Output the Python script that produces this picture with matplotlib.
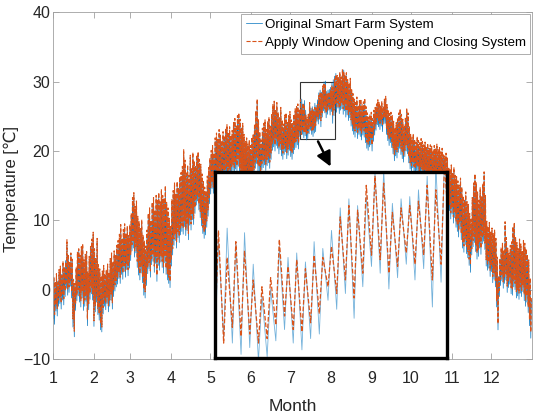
import numpy as np
import matplotlib
matplotlib.use("Agg")
import matplotlib.pyplot as plt
from matplotlib.patches import Rectangle

plt.rcParams['font.family'] = ['Liberation Sans Narrow', 'Liberation Sans', 'DejaVu Sans']

# month start (day of year) and labels
month_start = [0, 31, 59, 90, 120, 151, 181, 212, 243, 273, 304, 334]
month_labels = ['1', '2', '3', '4', '5', '6', '7', '8', '9', '10', '11', '12']

# daily high / low, original smart farm system [degC]
orig_high = [
    1.5, 0.8, 2.0, 1.2, 2.5, 3.0, 2.2, 3.8, 2.9, 4.2,
    6.5, 4.8, 3.5, 5.0, 4.1, 1.0, 0.5, 2.8, 4.9, 5.6,
    4.6, 5.8, 6.1, 3.9, 4.7, 5.2, 2.0, 4.4, 6.0, 6.8,
    7.9, 5.5, 4.0, 6.9, 3.1, 2.6, 1.5, 2.3, 3.0, 1.8,
    2.4, 3.2, 2.1, 4.0, 4.8, 3.6, 5.1, 4.5, 5.9, 6.6,
    7.4, 8.8, 6.9, 8.1, 9.0, 7.5, 8.6, 7.2, 8.9, 10.4,
    12.8, 13.6, 11.5, 12.2, 10.1, 9.2, 8.3, 9.6, 7.4, 6.5,
    5.8, 8.0, 10.4, 11.2, 9.5, 12.1, 12.8, 11.0, 13.1, 12.4,
    13.5, 12.2, 14.0, 13.1, 12.6, 14.6, 12.0, 11.2, 9.8, 8.5,
    12.4, 13.8, 14.9, 13.2, 15.1, 14.0, 15.8, 16.3, 17.2, 19.6,
    18.1, 16.4, 17.5, 15.9, 18.8, 17.0, 19.2, 18.0, 17.3, 18.9,
    19.4, 18.2, 17.6, 16.1, 15.0, 14.2, 13.5, 15.8, 17.0, 18.4,
    19.6, 20.3, 19.1, 21.4, 22.0, 21.2, 22.6, 21.8, 20.9, 22.3,
    21.6, 22.8, 23.3, 22.1, 23.0, 21.7, 22.5, 23.6, 24.2, 23.1,
    24.6, 25.0, 24.1, 22.8, 23.5, 21.9, 20.8, 21.4, 20.5, 21.1,
    20.2, 21.5, 22.0, 23.4, 25.3, 27.2, 24.1, 22.2, 21.0, 22.8,
    23.5, 24.0, 22.6, 23.8, 24.4, 23.0, 24.9, 26.2, 26.8, 25.5,
    26.5, 25.1, 24.3, 25.8, 24.0, 23.4, 24.7, 25.0, 23.8, 24.6,
    25.2, 24.0, 23.5, 24.8, 25.6, 26.0, 26.3, 25.4, 27.0, 27.5,
    26.8, 27.3, 25.9, 24.5, 24.8, 26.7, 26.2, 26.4, 26.0, 26.9,
    26.6, 27.4, 28.4, 28.8, 28.5, 28.9, 30.0, 30.1, 28.6, 28.8,
    28.9, 29.2, 29.8, 30.3, 30.8, 31.2, 30.5, 30.1, 31.0, 30.2,
    31.4, 31.7, 30.6, 30.9, 29.8, 29.3, 30.0, 28.5, 27.8, 27.0,
    26.5, 27.3, 26.1, 26.8, 27.0, 26.2, 26.6, 27.1, 25.9, 25.0,
    24.4, 24.8, 25.1, 24.2, 25.4, 25.8, 26.3, 26.9, 26.5, 26.0,
    26.7, 25.9, 27.0, 27.4, 26.2, 25.3, 24.9, 25.1, 24.6, 23.8,
    22.9, 23.6, 24.3, 25.0, 25.6, 24.8, 24.1, 23.2, 24.4, 25.7,
    25.0, 23.1, 21.9, 21.4, 22.0, 21.2, 20.8, 21.6, 21.0, 20.7,
    21.3, 20.9, 20.4, 20.8, 20.1, 20.6, 19.9, 20.4, 20.2, 19.6,
    20.3, 19.8, 20.5, 19.7, 20.0, 19.4, 19.9, 19.1, 18.8, 19.2,
    18.5, 17.2, 16.8, 17.5, 16.4, 17.1, 16.0, 15.8, 15.2, 14.6,
    15.6, 14.3, 13.0, 12.4, 13.6, 12.2, 11.8, 10.5, 9.6, 12.8,
    14.9, 16.2, 15.0, 13.6, 12.4, 14.2, 13.0, 14.8, 16.6, 13.1,
    9.4, 8.6, 9.2, 7.8, 8.4, 7.6, 8.1, 6.9, 4.2, 1.5,
    4.0, 5.6, 6.2, 5.1, 9.3, 7.0, 5.5, 4.8, 5.9, 6.4,
    8.6, 9.2, 7.0, 6.3, 5.4, 6.8, 6.1, 5.0, 6.6, 6.2,
    5.4, 4.6, 3.8, 1.2, -1.5]

orig_low = [
    -4.2, -5.0, -3.1, -3.8, -2.4, -2.0, -2.8, -1.5, -2.2, -1.0,
    0.2, -0.8, -0.4, 0.5, -1.2, -5.4, -6.8, -3.0, -1.6, -0.9,
    -1.8, -2.5, -1.2, -3.0, -2.4, -1.7, -5.2, -2.9, -1.4, -0.6,
    -1.5, -5.3, -3.2, -1.8, -3.6, -4.4, -5.8, -6.1, -3.5, -2.4,
    -2.9, -2.0, -3.2, -2.4, -1.5, -2.8, -1.0, -0.2, 0.4, 0.8,
    1.6, 0.9, 2.2, 1.5, 2.6, 1.8, 2.9, 2.0, 3.1, 4.2,
    5.6, 6.0, 4.7, 5.3, 3.2, 2.1, 1.4, 2.4, 1.0, -0.8,
    -1.2, 0.6, 2.3, 3.0, 1.8, 3.6, 4.1, 2.5, 3.8, 1.2,
    3.5, 2.8, 4.0, 3.2, 2.4, 3.9, 2.2, 1.4, 0.9, 0.3,
    3.4, 5.0, 6.4, 7.1, 6.0, 7.5, 6.8, 7.9, 8.4, 8.0,
    9.1, 7.8, 8.5, 7.2, 9.3, 8.6, 10.1, 9.4, 11.0, 12.2,
    12.8, 11.5, 10.4, 9.2, 8.1, 7.4, 7.9, 9.0, 10.6, 12.4,
    13.8, 14.6, 13.9, 15.0, 14.2, 15.6, 14.8, 15.9, 15.2, 16.0,
    15.4, 16.3, 16.8, 15.9, 16.5, 15.8, 16.9, 17.2, 16.6, 17.4,
    17.0, 17.8, 16.7, 15.9, 16.2, 15.1, 14.6, 15.3, 14.8, 15.0,
    14.5, 15.2, 15.8, 16.4, 17.5, 18.2, 17.1, 16.8, 16.0, 17.3,
    17.6, 18.0, 17.2, 17.9, 18.3, 17.5, 18.8, 20.1, 20.6, 20.0,
    20.8, 20.4, 19.6, 20.2, 19.3, 18.8, 19.5, 19.9, 18.9, 19.4,
    20.1, 19.2, 18.8, 19.6, 20.2, 20.5, 20.9, 20.3, 22.1, 22.6,
    22.4, 21.9, 22.2, 21.6, 21.8, 22.5, 23.0, 22.4, 22.1, 22.6,
    22.8, 24.3, 23.9, 24.6, 23.5, 24.9, 25.8, 25.5, 24.8, 25.3,
    25.9, 25.2, 25.7, 24.0, 25.1, 26.0, 25.6, 26.2, 25.4, 25.9,
    26.1, 25.3, 25.8, 24.9, 25.2, 24.4, 24.8, 23.6, 22.9, 22.4,
    22.0, 22.7, 21.8, 22.4, 22.1, 21.6, 22.3, 22.0, 21.2, 20.4,
    20.1, 20.6, 20.9, 20.0, 21.4, 22.3, 23.0, 23.8, 23.5, 23.1,
    23.6, 22.8, 23.9, 24.0, 22.4, 21.5, 20.8, 21.2, 20.5, 19.6,
    18.6, 19.3, 19.0, 19.8, 20.4, 19.5, 18.9, 18.4, 19.2, 20.0,
    19.6, 18.3, 17.4, 17.0, 17.6, 16.9, 16.6, 17.2, 16.8, 16.2,
    16.8, 16.5, 16.0, 16.4, 15.9, 16.2, 15.7, 16.0, 15.8, 15.4,
    15.9, 15.5, 16.1, 15.3, 15.6, 15.0, 15.4, 14.6, 14.2, 13.8,
    12.6, 10.8, 11.4, 10.2, 10.9, 9.6, 10.4, 9.0, 8.4, 7.6,
    8.8, 7.2, 6.0, 5.4, 6.5, 5.2, 4.6, 3.5, 2.5, 5.0,
    6.2, 6.8, 5.5, 4.4, 4.8, 6.0, 5.1, 6.6, 7.0, 5.8,
    3.4, 2.8, 3.1, 1.9, 2.6, 1.0, 1.5, 0.4, -2.5, -5.8,
    -1.0, 0.6, 1.3, 0.2, 0.9, 1.4, -0.4, 0.3, 0.8, -0.6,
    -0.8, 0.4, 0.0, -1.2, -0.9, -1.4, -0.5, -1.0, -0.3, -1.6,
    -2.4, -1.8, -3.3, -5.2, -7.0]

# daily high / low, with window opening and closing system [degC]
win_high = [
    1.9, 1.2, 2.3, 1.0, 2.9, 3.4, 2.0, 4.1, 3.3, 4.0,
    7.2, 5.1, 3.9, 5.3, 4.4, 1.5, 0.9, 3.2, 5.4, 5.9,
    5.0, 6.2, 6.6, 4.3, 5.1, 5.5, 2.6, 4.8, 6.4, 7.3,
    8.3, 5.9, 4.5, 7.4, 3.6, 3.0, 2.0, 2.7, 3.5, 2.3,
    2.9, 3.7, 2.5, 4.5, 5.3, 4.0, 5.6, 4.9, 6.4, 7.1,
    8.0, 9.4, 7.4, 8.7, 9.5, 8.0, 9.2, 7.8, 9.4, 11.0,
    13.3, 14.0, 12.0, 12.8, 10.6, 9.8, 8.8, 10.1, 7.9, 7.0,
    6.3, 8.6, 11.0, 11.8, 10.0, 12.6, 13.3, 11.5, 13.6, 12.9,
    14.0, 12.7, 14.5, 13.6, 13.1, 15.0, 12.6, 11.8, 10.3, 9.1,
    13.0, 14.3, 15.4, 13.8, 15.6, 14.6, 16.3, 16.9, 17.8, 20.2,
    18.7, 17.0, 18.0, 16.5, 19.4, 17.6, 19.8, 18.6, 17.9, 19.4,
    19.9, 18.8, 18.1, 16.7, 15.6, 14.8, 14.1, 16.4, 17.6, 19.0,
    20.1, 20.8, 19.7, 21.9, 22.6, 21.7, 23.1, 22.3, 21.5, 22.8,
    22.2, 23.3, 23.8, 22.7, 23.5, 22.3, 23.0, 24.1, 24.7, 23.6,
    25.1, 25.5, 24.6, 23.3, 24.0, 22.4, 21.4, 21.9, 21.0, 21.6,
    20.8, 22.0, 22.5, 23.9, 25.8, 27.5, 24.6, 22.8, 21.6, 23.3,
    24.0, 24.5, 23.1, 24.3, 24.9, 23.6, 25.4, 26.7, 27.2, 26.0,
    27.0, 25.6, 24.8, 26.3, 24.5, 23.9, 25.2, 25.5, 24.3, 25.1,
    25.7, 24.5, 24.0, 25.3, 26.1, 26.4, 26.8, 25.9, 27.4, 26.2,
    26.9, 26.5, 25.2, 24.9, 25.3, 27.0, 25.8, 26.1, 25.7, 26.3,
    26.2, 26.7, 28.0, 28.5, 28.3, 29.4, 29.8, 29.5, 28.2, 28.4,
    28.5, 28.7, 29.4, 29.2, 30.4, 31.0, 30.9, 30.6, 31.4, 30.7,
    31.8, 31.5, 31.0, 31.3, 30.3, 29.8, 30.5, 29.0, 28.3, 27.5,
    27.0, 27.8, 26.6, 27.3, 27.5, 26.7, 27.1, 27.6, 26.4, 25.5,
    24.9, 25.3, 25.6, 24.7, 25.9, 26.3, 26.8, 27.4, 27.0, 26.5,
    27.2, 26.4, 27.5, 27.9, 26.7, 25.8, 25.4, 25.6, 25.1, 24.3,
    23.4, 24.1, 24.8, 25.5, 26.1, 25.3, 24.6, 23.7, 24.9, 26.2,
    25.5, 23.6, 22.4, 21.9, 22.5, 21.7, 21.3, 22.1, 21.5, 21.2,
    21.8, 21.4, 20.9, 21.3, 20.6, 21.1, 20.4, 20.9, 20.7, 20.1,
    20.8, 20.3, 21.0, 20.2, 20.5, 19.9, 20.4, 19.6, 19.3, 19.7,
    19.0, 17.7, 17.3, 18.0, 16.9, 17.6, 16.5, 16.3, 15.7, 15.1,
    16.1, 14.8, 13.5, 12.9, 14.1, 12.7, 12.3, 11.0, 10.1, 13.3,
    15.4, 16.7, 15.5, 14.1, 12.9, 14.7, 13.5, 15.3, 17.0, 13.6,
    9.9, 9.1, 9.7, 8.3, 8.9, 8.1, 8.6, 7.4, 4.7, 2.0,
    4.5, 6.1, 6.7, 5.6, 9.8, 7.5, 6.0, 5.3, 6.4, 6.9,
    9.1, 9.7, 7.5, 6.8, 5.9, 7.3, 6.6, 5.5, 7.1, 6.7,
    5.9, 5.1, 4.3, 1.7, -1.0]

win_low = [
    -3.0, -3.6, -2.2, -2.7, -1.5, -1.1, -1.9, -0.6, -1.3, -0.2,
    1.0, 0.1, 0.4, 1.3, -0.3, -4.2, -6.0, -2.1, -0.8, 0.0,
    -0.9, -1.6, -0.3, -2.0, -1.5, -0.8, -4.3, -2.0, -0.5, 0.3,
    -0.6, -4.5, -2.3, -0.9, -2.7, -3.5, -4.9, -5.4, -2.6, -1.5,
    -2.0, -1.1, -2.3, -1.5, -0.6, -1.9, -0.1, 0.7, 1.3, 1.7,
    2.5, 1.8, 3.1, 2.4, 3.5, 2.7, 3.8, 2.9, 4.0, 5.1,
    6.5, 6.9, 5.6, 6.2, 4.1, 3.0, 2.3, 3.3, 1.9, 0.1,
    -0.3, 1.5, 3.2, 3.9, 2.7, 4.5, 5.0, 3.4, 4.7, 2.1,
    4.4, 3.7, 4.9, 4.1, 3.3, 4.8, 3.1, 2.3, 1.8, 1.2,
    4.3, 5.9, 7.3, 8.0, 6.9, 8.4, 7.7, 8.8, 9.3, 8.9,
    10.0, 8.7, 9.4, 8.1, 10.2, 9.5, 11.0, 10.3, 11.9, 13.1,
    13.7, 12.4, 11.3, 10.1, 9.0, 8.3, 8.8, 9.9, 11.5, 13.3,
    14.7, 15.5, 14.8, 15.9, 15.1, 16.5, 15.7, 16.8, 16.1, 16.9,
    16.3, 17.2, 17.7, 16.8, 17.4, 16.7, 17.8, 18.1, 17.5, 18.3,
    17.9, 18.7, 17.6, 16.8, 17.1, 16.0, 15.5, 16.2, 15.7, 15.9,
    15.4, 16.1, 16.7, 17.3, 18.4, 19.1, 18.0, 17.7, 16.9, 18.2,
    18.5, 18.9, 18.1, 18.8, 19.2, 18.4, 19.7, 21.0, 21.5, 20.9,
    21.7, 21.3, 20.5, 21.1, 20.2, 19.7, 20.4, 20.8, 19.8, 20.3,
    21.0, 20.1, 19.7, 20.5, 21.1, 21.4, 21.8, 21.2, 22.9, 22.4,
    23.1, 22.7, 22.8, 22.4, 22.6, 23.2, 23.6, 23.0, 22.9, 23.3,
    23.7, 24.9, 24.6, 25.2, 24.4, 25.5, 26.3, 26.1, 25.5, 25.8,
    26.4, 25.9, 26.3, 25.2, 25.9, 26.7, 26.4, 26.9, 26.2, 26.6,
    26.9, 26.1, 26.6, 25.8, 26.0, 25.3, 25.6, 24.5, 23.8, 23.3,
    22.9, 23.6, 22.7, 23.3, 23.0, 22.5, 23.2, 22.9, 22.1, 21.3,
    21.0, 21.5, 21.8, 20.9, 22.3, 23.2, 23.9, 24.7, 24.4, 24.0,
    24.5, 23.7, 24.8, 24.9, 23.3, 22.4, 21.7, 22.1, 21.4, 20.5,
    19.5, 20.2, 19.9, 20.7, 21.3, 20.4, 19.8, 19.3, 20.1, 20.9,
    20.5, 19.2, 18.3, 17.9, 18.5, 17.8, 17.5, 18.1, 17.7, 17.1,
    17.7, 17.4, 16.9, 17.3, 16.8, 17.1, 16.6, 16.9, 16.7, 16.3,
    16.8, 16.4, 17.0, 16.2, 16.5, 15.9, 16.3, 15.5, 15.1, 14.7,
    13.5, 11.7, 12.3, 11.1, 11.8, 10.5, 11.3, 9.9, 9.3, 8.5,
    9.7, 8.1, 6.9, 6.3, 7.4, 6.1, 5.5, 4.4, 3.6, 5.9,
    7.1, 7.7, 6.4, 5.3, 5.7, 6.9, 6.0, 7.5, 7.9, 6.7,
    4.3, 3.7, 4.0, 2.8, 3.5, 1.9, 2.4, 1.3, -1.6, -4.9,
    -0.1, 1.5, 2.2, 1.1, 1.8, 2.3, 0.5, 1.2, 1.7, 0.3,
    0.1, 1.3, 0.9, -0.3, 0.0, -0.5, 0.4, -0.1, 0.6, -0.7,
    -1.5, -0.9, -2.4, -4.3, -6.1]

# zoomed window (days of year, degC)
zoom_days = (188.2, 214.9)
zoom_temp = (21.75, 30.0)


def day_series(low, high):
    # low in the early morning, high in the afternoon of each day
    days = np.arange(len(low))
    t = np.column_stack([days + 0.25, days + 0.65]).ravel()
    v = np.column_stack([low, high]).ravel()
    return t, v


t_o, v_o = day_series(orig_low, orig_high)
t_w, v_w = day_series(win_low, win_high)

blue = '#0072BD'
orange = '#D95319'
frame = '#a0a0a0'

fig = plt.figure(figsize=(5.35, 4.15), dpi=100)
ax = fig.add_axes([0.099, 0.135, 0.895, 0.835])

ax.plot(t_o, v_o, color=blue, lw=0.5, label='Original Smart Farm System')
ax.plot(t_w, v_w, color=orange, lw=0.8, ls='--', label='Apply Window Opening and Closing System')

ax.set_xlim(0, 365)
ax.set_ylim(-10, 40)
ax.set_xticks(month_start)
ax.set_xticklabels(month_labels)
ax.set_yticks([-10, 0, 10, 20, 30, 40])
ax.tick_params(direction='in', top=True, right=True, length=4, width=0.6,
               color=frame, labelcolor='#262626', labelsize=11.5)
ax.tick_params(axis='x', pad=9)
ax.tick_params(axis='y', pad=2)
for s in ax.spines.values():
    s.set_color(frame)
    s.set_linewidth(0.6)

ax.set_xlabel('Month', fontsize=12.5, color='#262626')
ax.xaxis.set_label_coords(0.5, -0.115)
ax.set_ylabel('Temperature [℃]', fontsize=12, color='#262626',
              family=['Liberation Sans', 'DejaVu Sans'])
ax.yaxis.set_label_coords(-0.071, 0.49)

leg = ax.legend(loc='upper right', fontsize=9.6, fancybox=False, framealpha=1,
                edgecolor=frame, handlelength=1.2, handletextpad=0.2,
                borderpad=0.35, labelspacing=0.45, borderaxespad=0.1)
leg.get_frame().set_linewidth(0.6)

# zoom rectangle and arrow
ax.add_patch(Rectangle((zoom_days[0], zoom_temp[0]), zoom_days[1] - zoom_days[0],
                       zoom_temp[1] - zoom_temp[0], fill=False, ec='#333333', lw=0.8))
ax.annotate('', xy=(212.6, 17.4), xytext=(201.1, zoom_temp[0]),
            arrowprops=dict(arrowstyle='-|>', color='black', lw=1.8, mutation_scale=22),
            annotation_clip=False)

# inset
axin = fig.add_axes([0.401, 0.138, 0.434, 0.448])
axin.plot(t_o, v_o, color=blue, lw=0.6, alpha=0.55)
axin.plot(t_w, v_w, color=orange, lw=0.9, ls='--')
axin.set_xlim(*zoom_days)
axin.set_ylim(*zoom_temp)
axin.set_xticks([])
axin.set_yticks([])
for s in axin.spines.values():
    s.set_color('black')
    s.set_linewidth(2.4)

fig.savefig('out.png', dpi=100)
